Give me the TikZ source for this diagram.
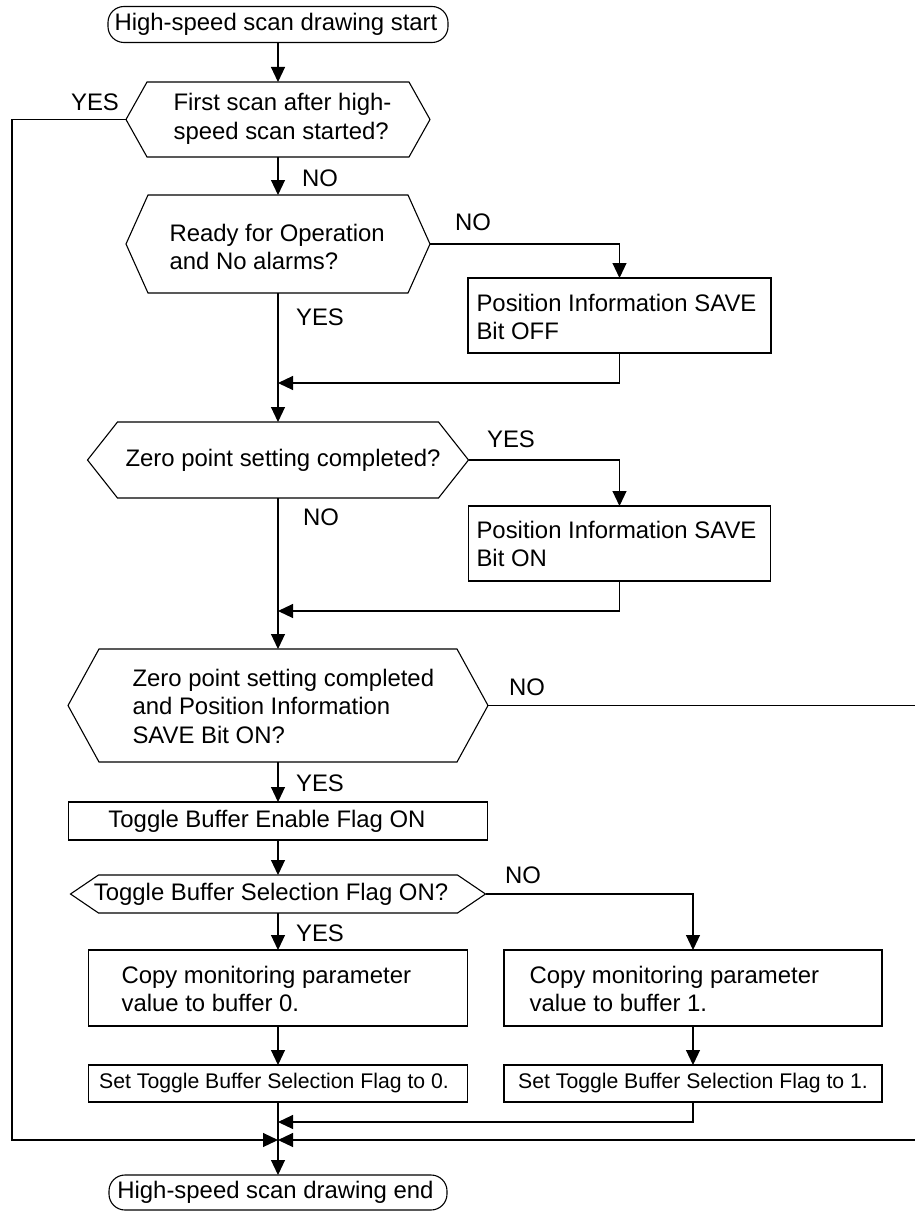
\documentclass[tikz,border=0pt]{standalone}
\usepackage{fontspec}
\setmainfont{Liberation Sans}
\usetikzlibrary{arrows.meta}
\newcommand\hexa[2]{\draw (#1.west) -- ([xshift=#2]#1.north west) -- ([xshift=-#2]#1.north east) -- (#1.east) -- ([xshift=-#2]#1.south east) -- ([xshift=#2]#1.south west) -- cycle;}
\begin{document}
\begin{tikzpicture}[x=1pt,y=-1pt,line width=1.1pt,line join=miter,
  font=\fontsize{23.9}{28.5}\selectfont,
  frame/.style={draw,inner sep=0pt,outer sep=0pt},
  hexframe/.style={draw=none,inner sep=0pt,outer sep=0pt},
  term/.style={draw,inner sep=0pt,outer sep=0pt,rounded corners=16pt},
  txt/.style={inner sep=0pt,align=left},
  ctxt/.style={inner sep=0pt,align=center},
  small/.style={inner sep=0pt,font=\fontsize{21.2}{25}\selectfont},
  lbl/.style={inner sep=0pt},
  arr/.style={-{Triangle[length=15pt,width=14pt]}}]
\fill[white] (0,0) rectangle (914,1212);
\useasboundingbox (0,0) rectangle (914,1212);

% terminals
\node[term,minimum width=340pt,minimum height=36pt] (s) at (278,24.5) {};
\node[ctxt] (st) at (276,24) {High-speed scan drawing start};
\node[term,minimum width=338pt,minimum height=35pt] (e) at (278,1192.5) {};
\node[ctxt] (et) at (275.5,1192.5) {High-speed scan drawing end};

% hexagons
\node[hexframe,minimum width=304pt,minimum height=75pt] (h1) at (278,119.5) {};
\hexa{h1}{21pt}
\node[txt,anchor=west] (h1t) at (173,119) {First scan after high-\\speed scan started?};

\node[hexframe,minimum width=304pt,minimum height=98pt] (h2) at (278,244) {};
\hexa{h2}{22pt}
\node[txt,anchor=west] (h2t) at (169,247) {Ready for Operation\\and No alarms?};

\node[hexframe,minimum width=381pt,minimum height=76pt] (h3) at (278,460) {};
\hexa{h3}{30pt}
\node[ctxt] (h3t) at (283,460) {Zero point setting completed?};

\node[hexframe,minimum width=420pt,minimum height=113pt] (h4) at (278,705.5) {};
\hexa{h4}{31pt}
\node[txt,anchor=west] (h4t) at (132,706) {Zero point setting completed\\and Position Information\\SAVE Bit ON?};

\node[hexframe,minimum width=415pt,minimum height=38pt] (h5) at (278,894) {};
\hexa{h5}{28pt}
\node[ctxt] (h5t) at (271,894) {Toggle Buffer Selection Flag ON?};

% process boxes
\node[frame,minimum width=303pt,minimum height=75pt] (p1) at (619.5,315.5) {};
\node[txt,anchor=west] (p1t) at (476,317) {Position Information SAVE\\Bit OFF};
\node[frame,minimum width=302pt,minimum height=75pt] (p2) at (619.5,543.5) {};
\node[txt,anchor=west] (p2t) at (476,544) {Position Information SAVE\\Bit ON};
\node[frame,minimum width=419pt,minimum height=38pt] (t1) at (278,821) {};
\node[ctxt] (t1t) at (267,821) {Toggle Buffer Enable Flag ON};
\node[frame,minimum width=379pt,minimum height=76pt] (c0) at (278,988) {};
\node[txt,anchor=west] (c0t) at (121,989) {Copy monitoring parameter\\value to buffer 0.};
\node[frame,minimum width=378pt,minimum height=76pt] (c1) at (693,988) {};
\node[txt,anchor=west] (c1t) at (529,989) {Copy monitoring parameter\\value to buffer 1.};
\node[frame,minimum width=379pt,minimum height=37pt] (z0) at (278,1083.5) {};
\node[small] (z0t) at (274,1083.5) {Set Toggle Buffer Selection Flag to 0.};
\node[frame,minimum width=378pt,minimum height=37pt] (z1) at (693,1083.5) {};
\node[small] (z1t) at (693,1083.5) {Set Toggle Buffer Selection Flag to 1.};

% junction coordinates
\coordinate (j1) at (278,383);
\coordinate (j2) at (278,611);
\coordinate (j3) at (278,1122);
\coordinate (m2) at (278,1140);
\coordinate (lx) at (12,1140);
\coordinate (rx) at (918,1140);

% connectors
\draw[arr] (s.south) -- (h1.north);
\draw[arr] (h1.south) -- (h2.north);
\draw[arr] (h1.west) -| (lx) -- (m2);
\draw[arr] (h2.east) -| (p1.north);
\draw[arr] (h2.south) -- (h3.north);
\draw[arr] (p1.south) |- (j1);
\draw[arr] (h3.east) -| (p2.north);
\draw[arr] (h3.south) -- (h4.north);
\draw[arr] (p2.south) |- (j2);
\draw[arr] (h4.east) -| (rx) -- (m2);
\draw[arr] (h4.south) -- (t1.north);
\draw[arr] (t1.south) -- (h5.north);
\draw[arr] (h5.east) -| (c1.north);
\draw[arr] (h5.south) -- (c0.north);
\draw[arr] (c0.south) -- (z0.north);
\draw[arr] (c1.south) -- (z1.north);
\draw[arr] (z1.south) |- (j3);
\draw[arr] (z0.south) -- (e.north);

% labels
\node[lbl] (ly1) at (95,102) {YES};
\node[lbl] (ln1) at (320,178) {NO};
\node[lbl] (ln2) at (473,222) {NO};
\node[lbl] (ly2) at (320,317) {YES};
\node[lbl] (ly3) at (511,439) {YES};
\node[lbl] (ln3) at (321,517) {NO};
\node[lbl] (ln4) at (527,687) {NO};
\node[lbl] (ly4) at (320,783) {YES};
\node[lbl] (ln5) at (523,875) {NO};
\node[lbl] (ly5) at (320,933) {YES};
\end{tikzpicture}
\end{document}
